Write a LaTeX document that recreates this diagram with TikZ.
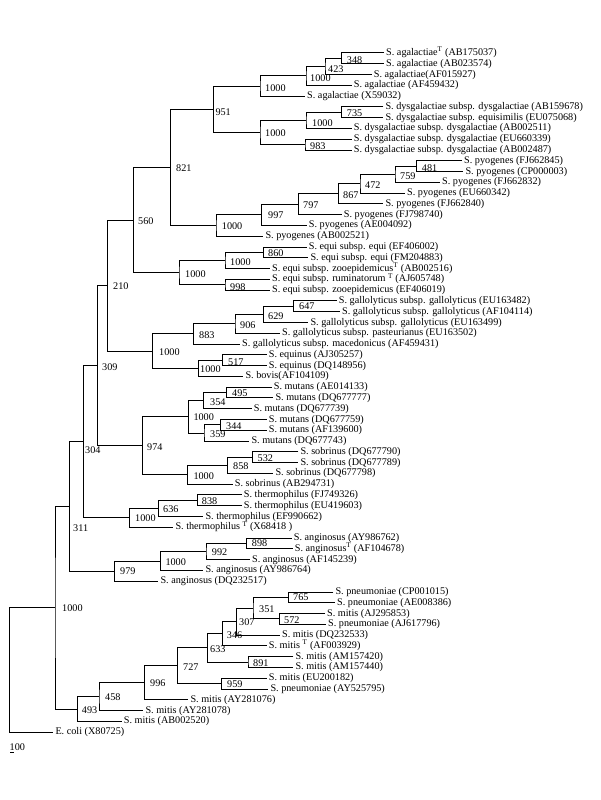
\documentclass[tikz,border=0pt]{standalone}
\usepackage{fontspec}
\setmainfont{Liberation Serif}
\usetikzlibrary{calc}
\tikzset{
  leaf/.style={anchor=west, inner sep=2pt, text height=7pt, text depth=2pt, font=\fontsize{10.2}{12}\selectfont},
  bs/.style={anchor=west, inner sep=0pt, font=\fontsize{10.2}{12}\selectfont},
  br/.style={line width=1pt, black, line join=miter},
}
\newcommand\lf[3]{\node[leaf] (L#1) at (#2,{53+(#1-1)*10.78}) {#3};}
\newcommand\tn[4]{%
  \coordinate (tmpm) at ($(#3)!.5!(#4)$);
  \coordinate (tmpx) at (#2,0);
  \coordinate (n#1) at (tmpm -| tmpx);
  \draw[br] (#3) -| (n#1) |- (#4);}
\newcommand\bl[4]{\node[bs] (b#1) at ($(n#1)+(#2,#3)$) {#4};}
\begin{document}
\begin{tikzpicture}[x=1pt,y=-1pt]
\useasboundingbox (0,0) rectangle (600,800);
% leaves
\lf{1}{384}{S. agalactiae\textsuperscript{T} (AB175037)}
\lf{2}{384}{S. agalactiae (AB023574)}
\lf{3}{371.7}{S. agalactiae(AF015927)}
\lf{4}{351.7}{S. agalactiae (AF459432)}
\lf{5}{305}{S. agalactiae (X59032)}
\lf{6}{383.3}{S. dysgalactiae subsp. dysgalactiae (AB159678)}
\lf{7}{383.3}{S. dysgalactiae subsp. equisimilis (EU075068)}
\lf{8}{351.7}{S. dysgalactiae subsp. dysgalactiae (AB002511)}
\lf{9}{351.7}{S. dysgalactiae subsp. dysgalactiae (EU660339)}
\lf{10}{351.7}{S. dysgalactiae subsp. dysgalactiae (AB002487)}
\lf{11}{462}{S. pyogenes (FJ662845)}
\lf{12}{463.3}{S. pyogenes (CP000003)}
\lf{13}{440}{S. pyogenes (FJ662832)}
\lf{14}{405}{S. pyogenes (EU660342)}
\lf{15}{383.3}{S. pyogenes (FJ662840)}
\lf{16}{341.7}{S. pyogenes (FJ798740)}
\lf{17}{306.7}{S. pyogenes (AE004092)}
\lf{18}{263.3}{S. pyogenes (AB002521)}
\lf{19}{306.7}{S. equi subsp. equi (EF406002)}
\lf{20}{308.3}{S. equi subsp. equi (FM204883)}
\lf{21}{270}{S. equi subsp. zooepidemicus\textsuperscript{T} (AB002516)}
\lf{22}{270}{S. equi subsp. ruminatorum \textsuperscript{T} (AJ605748)}
\lf{23}{270}{S. equi subsp. zooepidemicus (EF406019)}
\lf{24}{336.7}{S. gallolyticus subsp. gallolyticus (EU163482)}
\lf{25}{340}{S. gallolyticus subsp. gallolyticus (AF104114)}
\lf{26}{308.3}{S. gallolyticus subsp. gallolyticus (EU163499)}
\lf{27}{280}{S. gallolyticus subsp. pasteurianus (EU163502)}
\lf{28}{240}{S. gallolyticus subsp. macedonicus (AF459431)}
\lf{29}{266.7}{S. equinus (AJ305257)}
\lf{30}{266.7}{S. equinus (DQ148956)}
\lf{31}{243.3}{S. bovis(AF104109)}
\lf{32}{271.7}{S. mutans (AE014133)}
\lf{33}{273.3}{S. mutans (DQ677777)}
\lf{34}{251.7}{S. mutans (DQ677739)}
\lf{35}{266.7}{S. mutans (DQ677759)}
\lf{36}{266.7}{S. mutans (AF139600)}
\lf{37}{249.3}{S. mutans (DQ677743)}
\lf{38}{298.3}{S. sobrinus (DQ677790)}
\lf{39}{298.3}{S. sobrinus (DQ677789)}
\lf{40}{273.3}{S. sobrinus (DQ677798)}
\lf{41}{232.7}{S. sobrinus (AB294731)}
\lf{42}{241.7}{S. thermophilus (FJ749326)}
\lf{43}{241.7}{S. thermophilus (EU419603)}
\lf{44}{203.3}{S. thermophilus (EF990662)}
\lf{45}{173.3}{S. thermophilus \textsuperscript{T} (X68418 )}
\lf{46}{291.7}{S. anginosus (AY986762)}
\lf{47}{292.7}{S. anginosus\textsuperscript{T} (AF104678)}
\lf{48}{250}{S. anginosus (AF145239)}
\lf{49}{203.3}{S. anginosus (AY986764)}
\lf{50}{158.3}{S. anginosus (DQ232517)}
\lf{51}{333.3}{S. pneumoniae (CP001015)}
\lf{52}{335}{S. pneumoniae (AE008386)}
\lf{53}{325}{S. mitis (AJ295853)}
\lf{54}{326}{S. pneumoniae (AJ617796)}
\lf{55}{280}{S. mitis (DQ232533)}
\lf{56}{266.7}{S. mitis \textsuperscript{T} (AF003929)}
\lf{57}{293.3}{S. mitis (AM157420)}
\lf{58}{293.3}{S. mitis (AM157440)}
\lf{59}{266.7}{S. mitis (EU200182)}
\lf{60}{268.3}{S. pneumoniae (AY525795)}
\lf{61}{188.3}{S. mitis (AY281076)}
\lf{62}{143.3}{S. mitis (AY281078)}
\lf{63}{121.7}{S. mitis (AB002520)}
\lf{64}{53.3}{E. coli (X80725)}
% internal nodes
\tn{348}{341.7}{L1.west}{L2.west}
\tn{423}{325}{n348}{L3.west}
\tn{A1000i}{306}{n423}{L4.west}
\tn{A1000}{260}{nA1000i}{L5.west}
\tn{735}{341.7}{L6.west}{L7.west}
\tn{D1000i}{306}{n735}{L8.west}
\tn{983}{305}{L9.west}{L10.west}
\tn{D1000}{260}{nD1000i}{n983}
\tn{951}{213.3}{nA1000}{nD1000}
\tn{481}{416.7}{L11.west}{L12.west}
\tn{759}{395}{n481}{L13.west}
\tn{472}{360}{n759}{L14.west}
\tn{867}{338.3}{n472}{L15.west}
\tn{797}{298.3}{n867}{L16.west}
\tn{997}{261.7}{n797}{L17.west}
\tn{P1000}{216}{n997}{L18.west}
\tn{821}{170.7}{n951}{nP1000}
\tn{860}{263.3}{L19.west}{L20.west}
\tn{E1000}{225}{n860}{L21.west}
\tn{998}{225}{L22.west}{L23.west}
\tn{E1000o}{179}{nE1000}{n998}
\tn{560}{133.3}{n821}{nE1000o}
\tn{647}{293.3}{L24.west}{L25.west}
\tn{629}{263.3}{n647}{L26.west}
\tn{906}{235}{n629}{L27.west}
\tn{883}{193.3}{n906}{L28.west}
\tn{517}{222.7}{L29.west}{L30.west}
\tn{Q1000}{198.3}{n517}{L31.west}
\tn{G1000}{152.7}{n883}{nQ1000}
\tn{210}{107.3}{n560}{nG1000}
\tn{495}{226.7}{L32.west}{L33.west}
\tn{354}{203.3}{n495}{L34.west}
\tn{344}{220.7}{L35.west}{L36.west}
\tn{359}{204}{n344}{L37.west}
\tn{M1000}{188.3}{n354}{n359}
\tn{532}{252.7}{L38.west}{L39.west}
\tn{858}{227.3}{n532}{L40.west}
\tn{S1000}{187.8}{n858}{L41.west}
\tn{974}{142.5}{nM1000}{nS1000}
\tn{309}{97.3}{n210}{n974}
\tn{838}{197.3}{L42.west}{L43.west}
\tn{636}{158.3}{n838}{L44.west}
\tn{T1000}{129.3}{n636}{L45.west}
\tn{304}{83.3}{n309}{nT1000}
\tn{898}{246.7}{L46.west}{L47.west}
\tn{992}{206}{n898}{L48.west}
\tn{N1000}{160.3}{n992}{L49.west}
\tn{979}{114.2}{nN1000}{L50.west}
\tn{311}{69.3}{n304}{n979}
\tn{765}{288.3}{L51.west}{L52.west}
\tn{572}{279.2}{L53.west}{L54.west}
\tn{351}{253}{n765}{n572}
\tn{307}{236.5}{n351}{L55.west}
\tn{346}{222.7}{n307}{L56.west}
\tn{891}{248}{L57.west}{L58.west}
\tn{633}{207.3}{n346}{n891}
\tn{959}{221.7}{L59.west}{L60.west}
\tn{727}{177.7}{n633}{n959}
\tn{996}{144.2}{n727}{L61.west}
\tn{458}{99}{n996}{L62.west}
\tn{493}{77.3}{n458}{L63.west}
\tn{R1000}{55}{n311}{n493}
\tn{root}{9.3}{nR1000}{L64.west}
% bootstrap labels
\bl{348}{5}{1.6}{348}
\bl{423}{3}{2.5}{423}
\bl{A1000i}{4}{2}{1000}
\bl{A1000}{5}{1.7}{1000}
\bl{951}{2}{2.7}{951}
\bl{735}{5}{0.7}{735}
\bl{D1000i}{6}{2.3}{1000}
\bl{D1000}{5}{0.8}{1000}
\bl{983}{5}{1.4}{983}
\bl{481}{5}{2}{481}
\bl{759}{5}{1.4}{759}
\bl{472}{5}{1.3}{472}
\bl{867}{4.7}{1.2}{867}
\bl{797}{4.7}{1.4}{797}
\bl{997}{6.3}{0.8}{997}
\bl{P1000}{5.7}{0.4}{1000}
\bl{821}{5.3}{0.6}{821}
\bl{860}{4.7}{0.3}{860}
\bl{E1000}{5}{1.2}{1000}
\bl{998}{5}{1.9}{998}
\bl{E1000o}{6}{1.4}{1000}
\bl{560}{4.7}{0.7}{560}
\bl{647}{5.7}{-0.3}{647}
\bl{629}{4.7}{1.6}{629}
\bl{906}{5}{1.5}{906}
\bl{883}{5.7}{1}{883}
\bl{517}{5.3}{2.1}{517}
\bl{Q1000}{1.7}{0.7}{1000}
\bl{G1000}{6.3}{0.6}{1000}
\bl{210}{5.7}{0.4}{210}
\bl{495}{5.3}{0.7}{495}
\bl{354}{6.7}{1.4}{354}
\bl{344}{5.3}{0.8}{344}
\bl{359}{6}{1.3}{359}
\bl{M1000}{5}{0.5}{1000}
\bl{532}{4.8}{1.1}{532}
\bl{858}{5.7}{0.4}{858}
\bl{S1000}{5.5}{0.9}{1000}
\bl{974}{4.5}{0.9}{974}
\bl{309}{4.7}{1}{309}
\bl{838}{4.4}{0.6}{838}
\bl{636}{4.7}{0.6}{636}
\bl{T1000}{5.7}{0.4}{1000}
\bl{304}{1.7}{8.2}{304}
\bl{898}{5}{-0.5}{898}
\bl{992}{5.7}{0.5}{992}
\bl{N1000}{5}{0.7}{1000}
\bl{979}{5.8}{0.4}{979}
\bl{311}{3.7}{21.5}{311}
\bl{765}{4.7}{-0.7}{765}
\bl{572}{4.8}{1}{572}
\bl{351}{6}{0.8}{351}
\bl{307}{2.5}{1}{307}
\bl{346}{4}{1}{346}
\bl{891}{5}{0.6}{891}
\bl{633}{2.7}{1.1}{633}
\bl{959}{5.3}{0.7}{959}
\bl{727}{5.3}{0.9}{727}
\bl{996}{5.8}{0.2}{996}
\bl{458}{6}{0.8}{458}
\bl{493}{4.4}{1}{493}
\bl{R1000}{7}{0.2}{1000}
% scale bar
\node[bs] (sbt) at (9.5,747) {100};
\coordinate (sb1) at (10,752);
\coordinate (sb2) at (13.5,752);
\draw[br] (sb1) -- (sb2);
\end{tikzpicture}
\end{document}
